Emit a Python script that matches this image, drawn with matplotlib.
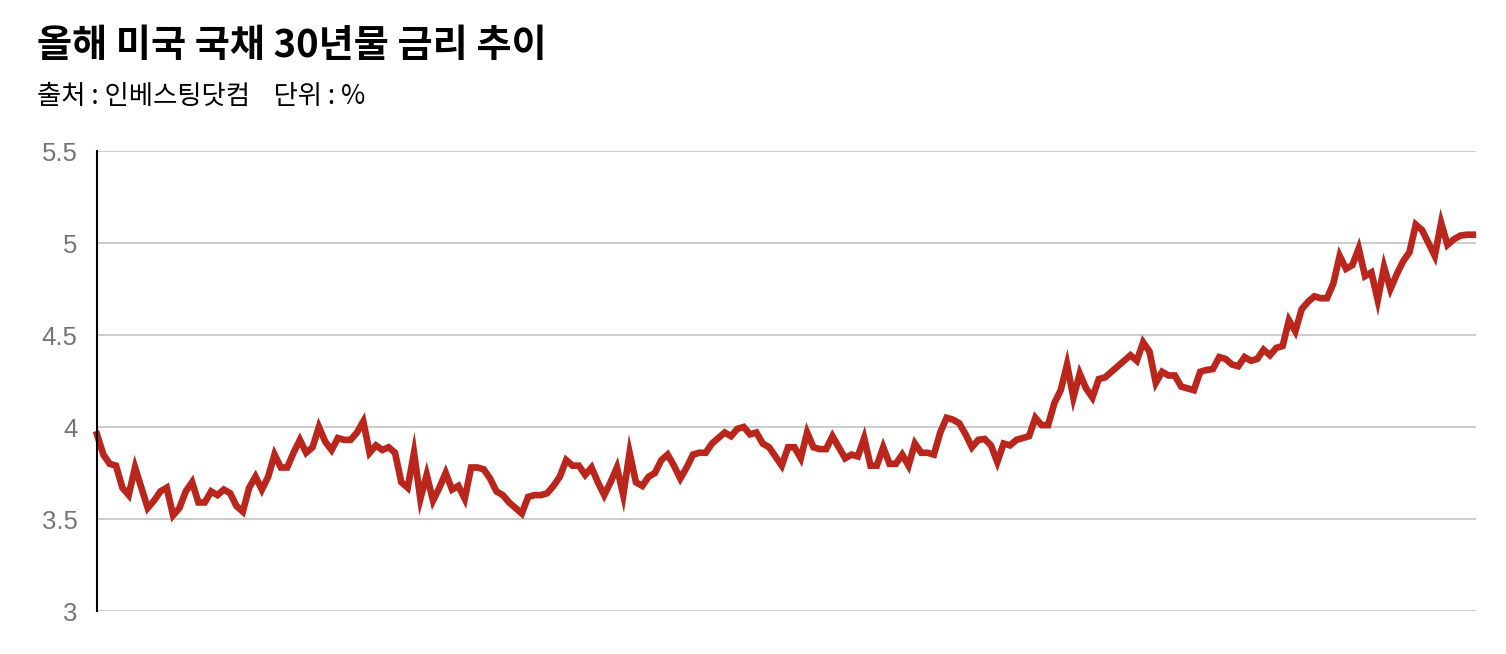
import matplotlib
matplotlib.use("Agg")
import matplotlib.pyplot as plt
import numpy as np

title = "올해 미국 국채 30년물 금리 추이"
subtitle = "출처 : 인베스팅닷컴    단위 : %"

yields = [
    3.96, 3.85, 3.80, 3.79, 3.67, 3.63, 3.78, 3.67, 3.56, 3.60, 3.65, 3.67, 3.52, 3.56, 3.65,
    3.70, 3.59, 3.59, 3.65, 3.63, 3.66, 3.64, 3.57, 3.54, 3.67, 3.73, 3.66, 3.73, 3.85, 3.78,
    3.78, 3.86, 3.93, 3.86, 3.89, 4.00, 3.92, 3.875, 3.94, 3.93, 3.93, 3.97, 4.03, 3.86, 3.90,
    3.875, 3.89, 3.86, 3.70, 3.67, 3.86, 3.61, 3.74, 3.60, 3.67, 3.75, 3.66, 3.68, 3.61, 3.78,
    3.78, 3.77, 3.72, 3.65, 3.63, 3.59, 3.56, 3.53, 3.62, 3.63, 3.63, 3.64, 3.68, 3.73, 3.82,
    3.79, 3.79, 3.74, 3.78, 3.70, 3.63, 3.70, 3.78, 3.63, 3.86, 3.70, 3.68, 3.73, 3.75, 3.82,
    3.85, 3.79, 3.72, 3.78, 3.85, 3.86, 3.86, 3.91, 3.94, 3.97, 3.95, 3.99, 4.00, 3.96, 3.97,
    3.91, 3.89, 3.84, 3.79, 3.89, 3.89, 3.83, 3.97, 3.89, 3.88, 3.88, 3.95, 3.89, 3.83, 3.85,
    3.84, 3.94, 3.79, 3.79, 3.89, 3.80, 3.80, 3.85, 3.79, 3.91, 3.86, 3.86, 3.85, 3.97, 4.05,
    4.04, 4.02, 3.96, 3.89, 3.93, 3.935, 3.90, 3.81, 3.91, 3.90, 3.93, 3.94, 3.95, 4.05, 4.01,
    4.01, 4.13, 4.20, 4.34, 4.16, 4.29, 4.21, 4.16, 4.26, 4.27, 4.30, 4.33, 4.36, 4.39, 4.36,
    4.46, 4.41, 4.24, 4.30, 4.28, 4.28, 4.22, 4.21, 4.20, 4.30, 4.31, 4.315, 4.38, 4.37, 4.34,
    4.33, 4.38, 4.36, 4.37, 4.42, 4.39, 4.43, 4.44, 4.58, 4.52, 4.64, 4.68, 4.71, 4.70, 4.70,
    4.78, 4.93, 4.86, 4.88, 4.97, 4.82, 4.84, 4.69, 4.87, 4.75, 4.83, 4.90, 4.95, 5.10, 5.07,
    5.00, 4.93, 5.11, 4.99, 5.02, 5.04, 5.045, 5.045,
]
y_ticks = [3, 3.5, 4, 4.5, 5, 5.5]
y_tick_labels = ["3", "3.5", "4", "4.5", "5", "5.5"]

plt.rcParams["font.family"] = ["Liberation Sans", "Noto Sans CJK KR", "DejaVu Sans"]

fig = plt.figure(figsize=(15.06, 6.54), dpi=100)
ax = fig.add_axes([97 / 1506, 1 - 611 / 654, (1476 - 97) / 1506, (611 - 151) / 654])

x = np.arange(len(yields))
ax.plot(x, yields, color="#ba251c", lw=4.8, solid_joinstyle="miter", zorder=3, clip_on=False)

ax.set_ylim(3, 5.5)
ax.set_xlim(0, len(yields) - 1 + 0.5)
ax.set_yticks(y_ticks)
ax.set_yticklabels(y_tick_labels)
ax.set_xticks([])
ax.tick_params(axis="y", length=0, pad=14, labelsize=18.5, labelcolor="#757575")
ax.grid(axis="y", color="#c8c8c8", lw=1.3, zorder=1)
for s in ["top", "right", "bottom"]:
    ax.spines[s].set_visible(False)
ax.spines["left"].set_color("black")
ax.spines["left"].set_linewidth(1.5)
ax.spines["left"].set_zorder(4)

fig.text(37 / 1506, 1 - 46 / 654, title, fontsize=27.5, fontweight="bold", va="center", ha="left",
         family=["Noto Sans CJK KR", "DejaVu Sans"], color="black")
fig.text(37 / 1506, 1 - 96 / 654, subtitle, fontsize=19, va="center", ha="left",
         family=["Noto Sans CJK KR", "DejaVu Sans"], color="black")

fig.savefig("out.png", dpi=100)
